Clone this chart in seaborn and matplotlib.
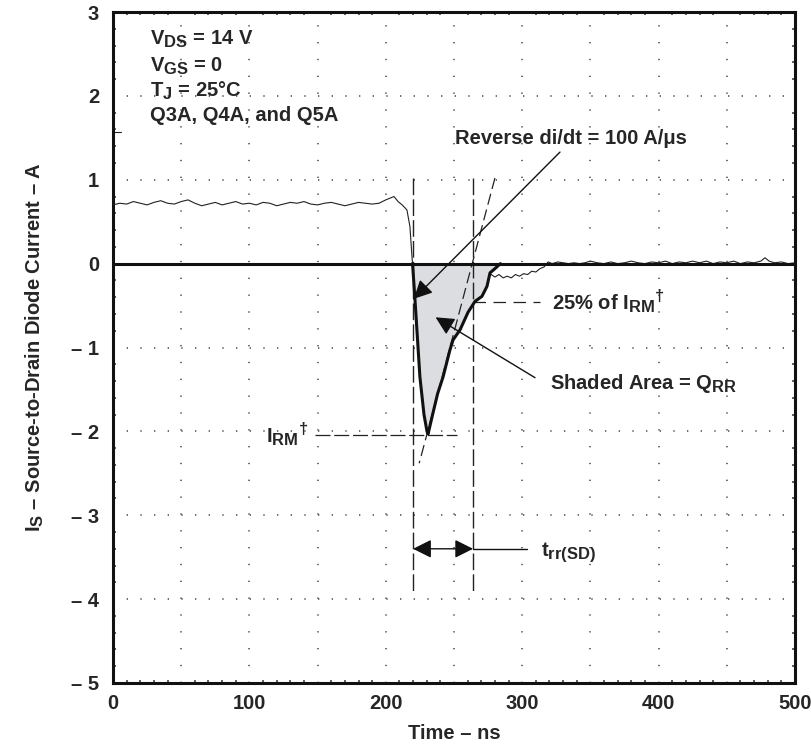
import numpy as np
import pandas as pd
import matplotlib
matplotlib.use("Agg")
import matplotlib.pyplot as plt
import seaborn as sns

try:
    import matplotlib._mathtext as _mt
    _mt.SHRINK_FACTOR = 0.82
except Exception:
    pass

# ---------------- data ----------------
# forward conduction part of the trace (thin, noisy)
t_fwd = [0, 5, 10, 15, 20, 25, 30, 35, 40, 45, 50, 55, 60, 65, 70, 75, 80, 85,
         90, 95, 100, 105, 110, 115, 120, 125, 130, 135, 140, 145, 150, 155,
         160, 165, 170, 175, 180, 185, 190, 195, 200, 203, 206, 209, 212,
         215.5, 217.7, 219.2, 219.6]
i_fwd = [0.70, 0.72, 0.71, 0.74, 0.72, 0.70, 0.73, 0.75, 0.72, 0.71, 0.74,
         0.76, 0.72, 0.69, 0.71, 0.73, 0.70, 0.72, 0.74, 0.71, 0.72, 0.70,
         0.73, 0.72, 0.69, 0.71, 0.73, 0.72, 0.74, 0.71, 0.70, 0.72, 0.73,
         0.71, 0.69, 0.71, 0.73, 0.72, 0.71, 0.72, 0.76, 0.78, 0.80, 0.74,
         0.70, 0.64, 0.44, 0.08, 0.0]

# reverse recovery part (thick outline of the shaded area)
t_rr = [219.6, 221.4, 225.0, 228.0, 230.2, 231.0, 234.6, 238.0, 242.0, 247.0,
        249.3, 254.4, 260.3, 265.4, 270.5, 274.2, 276.4, 280.0, 284.0]
i_rr = [0.0, -0.43, -1.35, -1.80, -2.00, -2.03, -1.78, -1.55, -1.35, -1.03,
        -0.91, -0.79, -0.58, -0.45, -0.39, -0.27, -0.11, -0.06, 0.0]

# tail of the trace after recovery (thin, noisy)
t_tail = [276.4, 280, 283, 286, 289, 292, 295, 298, 301, 304, 307, 310, 313,
          316, 319, 322, 326, 330, 334, 338, 342, 346, 350, 355, 360, 365,
          370, 375, 380, 385, 390, 395, 400, 405, 410, 415, 420, 425, 430,
          435, 440, 445, 450, 455, 460, 465, 470, 475, 478, 481, 485, 490,
          495, 500]
i_tail = [-0.12, -0.16, -0.13, -0.17, -0.15, -0.17, -0.13, -0.15, -0.12,
          -0.13, -0.09, -0.10, -0.06, -0.04, 0.02, 0.0, 0.02, 0.01, 0.0, 0.01,
          0.0, 0.01, 0.03, 0.01, 0.0, 0.02, 0.0, 0.01, 0.03, 0.01, 0.0, 0.02,
          0.01, 0.03, 0.0, 0.02, 0.01, 0.03, 0.01, 0.03, 0.0, 0.02, 0.01,
          0.03, 0.0, 0.02, 0.01, 0.03, 0.07, 0.03, 0.01, 0.02, 0.0, 0.01]

x_ticks = [0, 100, 200, 300, 400, 500]
y_ticks = [-5, -4, -3, -2, -1, 0, 1, 2, 3]
y_tick_labels = ["\u2013 5", "\u2013 4", "\u2013 3", "\u2013 2", "\u2013 1",
                 "0", "1", "2", "3"]

# construction values
i_rm = -2.04          # peak reverse current line
i_25 = -0.46          # 25 % of I_RM
t_start = 220         # start of t_rr
t_end = 264           # end of t_rr
didt_line_t = [280, 224.5]
didt_line_i = [1.02, -2.38]

# ---------------- style ----------------
sns.set_theme(style="white")
plt.rcParams["font.family"] = ["Liberation Sans", "DejaVu Sans"]
plt.rcParams["font.weight"] = "bold"
plt.rcParams["mathtext.fontset"] = "custom"
plt.rcParams["mathtext.rm"] = "Liberation Sans:bold"
plt.rcParams["mathtext.it"] = "Liberation Sans:bold"
plt.rcParams["mathtext.bf"] = "Liberation Sans:bold"
plt.rcParams["mathtext.default"] = "bf"

fig = plt.figure(figsize=(8.11, 7.44), dpi=100)
ax = fig.add_axes([113 / 811, 1 - 683 / 744, (795 - 113) / 811, (683 - 12) / 744])

fs = 14.5

# shaded area
ax.fill_between(t_rr, i_rr, 0, color="#dcdde0", lw=0, zorder=1)

# traces
df_fwd = pd.DataFrame({"t": t_fwd, "i": i_fwd})
df_rr = pd.DataFrame({"t": t_rr, "i": i_rr})
df_tail = pd.DataFrame({"t": t_tail, "i": i_tail})
sns.lineplot(data=df_fwd, x="t", y="i", ax=ax, color="#222222", lw=0.8,
             sort=False, estimator=None, zorder=3)
sns.lineplot(data=df_tail, x="t", y="i", ax=ax, color="#222222", lw=0.8,
             sort=False, estimator=None, zorder=3)
sns.lineplot(data=df_rr, x="t", y="i", ax=ax, color="#111111", lw=2.2,
             sort=False, estimator=None, zorder=4)

# zero line
ax.axhline(0, color="#111111", lw=2.2, zorder=3)

# ground marker at left edge
ax.plot([0, 6], [1.57, 1.57], color="#222222", lw=0.8)

# construction lines
dash = (0, (12, 3))
ax.plot([t_start, t_start], [1.02, -3.92], color="#222222", lw=1.0, ls=dash)
ax.plot([t_end, t_end], [1.02, -3.92], color="#222222", lw=1.0, ls=dash)
ax.plot(didt_line_t, didt_line_i, color="#222222", lw=0.9, ls=(0, (9, 4)))
ax.plot([148, 252], [i_rm, i_rm], color="#222222", lw=0.9, ls=(0, (12, 3)))
ax.plot([t_end, 313], [i_25, i_25], color="#222222", lw=0.9, ls=(0, (10, 6)))

# axes
ax.set_xlim(0, 500)
ax.set_ylim(-5, 3)
ax.set_xticks(np.arange(0, 501, 50))
ax.set_xticklabels([str(v) if v in x_ticks else "" for v in range(0, 501, 50)])
ax.set_yticks(y_ticks)
ax.set_yticklabels(y_tick_labels)
ax.set_xticks(np.arange(0, 501, 10), minor=True)
ax.set_yticks(np.arange(-5, 3.01, 0.2), minor=True)
ax.tick_params(which="major", length=0, labelsize=fs)
ax.tick_params(axis="x", which="major", pad=8)
ax.tick_params(axis="y", which="major", pad=10)
ax.tick_params(which="minor", direction="in", length=2.5, width=1.2,
               color="#444444", top=True, right=True, bottom=True, left=True)
for lab in ax.get_xticklabels() + ax.get_yticklabels():
    lab.set_fontweight("bold")

ax.xaxis.grid(True, color="#555555", lw=1.2, ls=(0, (0.8, 9.3)))
ax.yaxis.grid(True, color="#555555", lw=1.2, ls=(0, (0.8, 7.4)))
ax.set_axisbelow(True)

for s in ax.spines.values():
    s.set_linewidth(2.2)
    s.set_color("#111111")

ax.set_xlabel("Time \u2013 ns", fontsize=fs, fontweight="bold", labelpad=8)
ax.set_ylabel("I$_S$ \u2013 Source-to-Drain Diode Current \u2013 A",
              fontsize=fs, fontweight="bold", labelpad=18)

# condition text
cond = ["V$_{DS}$ = 14 V", "V$_{GS}$ = 0", "T$_J$ = 25\u00b0C",
        "Q3A, Q4A, and Q5A"]
for txt, yv in zip(cond, [2.61, 2.29, 1.99, 1.70]):
    ax.text(27, yv, txt, fontsize=fs, fontweight="bold", va="baseline",
            ha="left")

# annotations
arrow_kw = dict(arrowstyle="-|>", mutation_scale=28, lw=1.0, color="#111111",
                shrinkA=0, shrinkB=0)
ax.annotate("", xy=(220.5, -0.42), xytext=(327.7, 1.33), arrowprops=arrow_kw,
            zorder=6)
ax.text(250.7, 1.43, "Reverse di/dt = 100 A/\u03bcs", fontsize=fs,
        fontweight="bold", va="baseline", ha="left")

ax.annotate("", xy=(236.5, -0.64), xytext=(309.4, -1.36), arrowprops=arrow_kw,
            zorder=6)
ax.text(320.4, -1.50, "Shaded Area = Q$_{RR}$", fontsize=fs,
        fontweight="bold", va="baseline", ha="left")

ax.text(321.6, -0.55, "25% of I$_{RM}$$^{\u2020}$", fontsize=fs,
        fontweight="bold", va="baseline", ha="left")
ax.text(143, -2.13, "I$_{RM}$$^{\u2020}$", fontsize=fs, fontweight="bold",
        va="baseline", ha="right")

ax.annotate("", xy=(t_start, -3.40), xytext=(t_end, -3.40),
            arrowprops=dict(arrowstyle="<|-|>", mutation_scale=28, lw=1.0,
                            color="#111111", shrinkA=0, shrinkB=0))
ax.plot([t_end, 303.5], [-3.40, -3.40], color="#111111", lw=1.0)
ax.text(314, -3.50, "t$_{rr(SD)}$", fontsize=fs, fontweight="bold",
        va="baseline", ha="left")

fig.savefig("out.png", dpi=100)
